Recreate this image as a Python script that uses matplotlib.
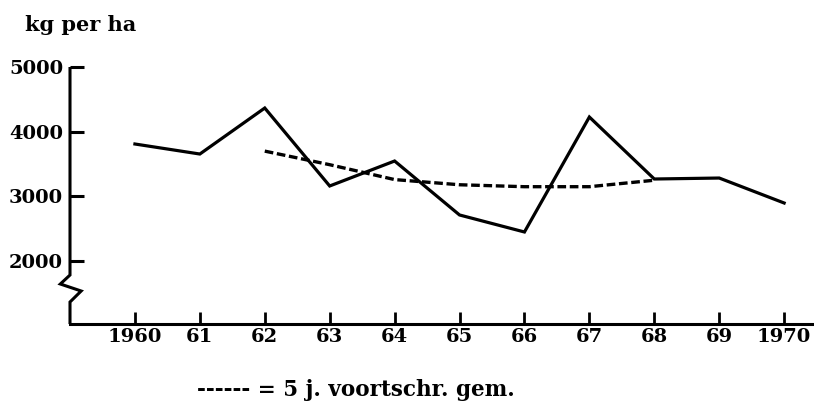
import matplotlib
matplotlib.use("Agg")
import matplotlib.pyplot as plt
import matplotlib.transforms as mtransforms

# opbrengst per jaar (kg per ha)
years = [1960, 1961, 1962, 1963, 1964, 1965, 1966, 1967, 1968, 1969, 1970]
yield_kg = [3810, 3655, 4366, 3161, 3547, 2713, 2450, 4227, 3269, 3284, 2898]

# 5-jarig voortschrijdend gemiddelde
avg_years = [1962, 1963, 1964, 1965, 1966, 1967, 1968]
avg_kg = [3700, 3490, 3260, 3180, 3150, 3150, 3250]

yticks = [2000, 3000, 4000, 5000]
xlabels = ["1960", "61", "62", "63", "64", "65", "66", "67", "68", "69", "1970"]

plt.rcParams['font.family'] = ['DejaVu Serif']
plt.rcParams['font.weight'] = 'bold'

W, H = 814, 401
fig = plt.figure(figsize=(W / 100, H / 100), dpi=100)
ax = fig.add_axes([70 / W, 77 / H, 744 / W, 257 / H])

ax.plot(years, yield_kg, color='black', lw=2.3, solid_joinstyle='miter')
ax.plot(avg_years, avg_kg, color='black', lw=2.4, dashes=(2.6, 1.1))

ax.set_xlim(1959.0, 1970.46)
ax.set_ylim(1028, 5000)

for s in ['top', 'right', 'left']:
    ax.spines[s].set_visible(False)
ax.spines['bottom'].set_linewidth(2.2)

# y-as met onderbreking
trans = mtransforms.blended_transform_factory(ax.transAxes, ax.transData)
bx = [0, 0, 0, -0.013, 0.015, 0, 0]
by = [5000, 2000, 1785, 1646, 1538, 1368, 1028]
ax.plot(bx, by, color='black', lw=2.2, transform=trans, clip_on=False,
        solid_joinstyle='miter', solid_capstyle='butt')

ax.set_yticks(yticks)
ax.set_yticklabels([str(v) for v in yticks])
ax.set_xticks(years)
ax.set_xticklabels(xlabels)
ax.tick_params(axis='y', direction='in', length=10, width=2.2, pad=5,
               labelsize=14)
ax.tick_params(axis='x', direction='in', length=8.5, width=2.0, pad=3,
               labelsize=14)

fig.text(25 / W, 1 - 31 / H, "kg per ha", fontsize=15, fontweight='bold',
         va='baseline', ha='left')
fig.text(197 / W, 1 - 396 / H, "------ = 5 j. voortschr. gem.", fontsize=15.5,
         fontweight='bold', va='baseline', ha='left')

fig.savefig("out.png", dpi=100)
